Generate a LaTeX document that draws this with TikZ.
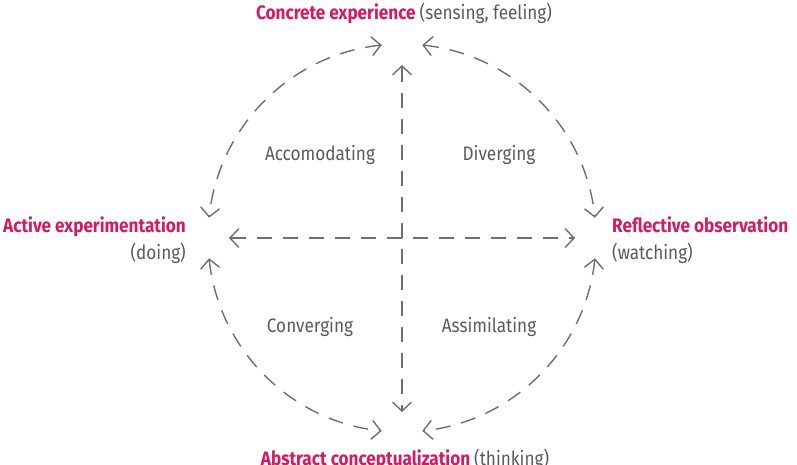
\documentclass[tikz,border=0pt]{standalone}
\usepackage{fontspec}
\setmainfont{Fira Sans}[FakeStretch=0.88]
\usetikzlibrary{arrows.meta}
\definecolor{crim}{RGB}{214,26,96}
\definecolor{txtgray}{RGB}{90,90,90}
\definecolor{lngray}{RGB}{110,110,110}
\begin{document}
\begin{tikzpicture}[x=1pt,y=1pt,
  conn/.style={lngray, line width=1.4pt, dash pattern=on 15pt off 11pt,
     {Straight Barb[length=9pt,width=19pt,line width=1.4pt]}-{Straight Barb[length=9pt,width=19pt,line width=1.4pt]}},
  head/.style={font=\fontsize{19.5}{22}\selectfont\bfseries, text=crim, inner sep=0pt, anchor=base},
  sub/.style={font=\fontsize{19.5}{22}\selectfont, text=txtgray, inner sep=0pt, anchor=base},
  quad/.style={font=\fontsize{19.5}{22}\selectfont, text=txtgray, inner sep=0pt, anchor=base}]
\useasboundingbox (0,0) rectangle (797,464);
\clip (0,0) rectangle (797,464);
\coordinate (c) at (402,226);
% axis end points
\coordinate (vt) at (402,399);
\coordinate (vb) at (402,52);
\coordinate (hl) at (229,226);
\coordinate (hr) at (575,226);
\draw[conn] (vt) -- (vb);
\draw[conn] (hl) -- (hr);
\draw[conn] (c) ++(96:194pt) arc[start angle=96, end angle=174, radius=194pt];
\draw[conn] (c) ++(84:194pt) arc[start angle=84, end angle=6, radius=194pt];
\draw[conn] (c) ++(186:194pt) arc[start angle=186, end angle=264, radius=194pt];
\draw[conn] (c) ++(354:194pt) arc[start angle=354, end angle=276, radius=194pt];
% labels
\node[head, anchor=base] (ce) at (404,444) {Concrete experience \textmd{\color{txtgray}(sensing, feeling)}};
\node[head, anchor=base] (ac) at (405,-1) {Abstract conceptualization \textmd{\color{txtgray}(thinking)}};
\node[head, anchor=base east] (ae) at (186,232) {Active experimentation};
\node[sub, anchor=base east] (aed) at (186,205) {(doing)};
\node[head, anchor=base west] (ro) at (612,232) {Reflective observation};
\node[sub, anchor=base west] (rod) at (612,205) {(watching)};
\node[quad] (q1) at (320,303) {Accomodating};
\node[quad] (q2) at (499,303) {Diverging};
\node[quad] (q3) at (310,132) {Converging};
\node[quad] (q4) at (489,132) {Assimilating};
\end{tikzpicture}
\end{document}
